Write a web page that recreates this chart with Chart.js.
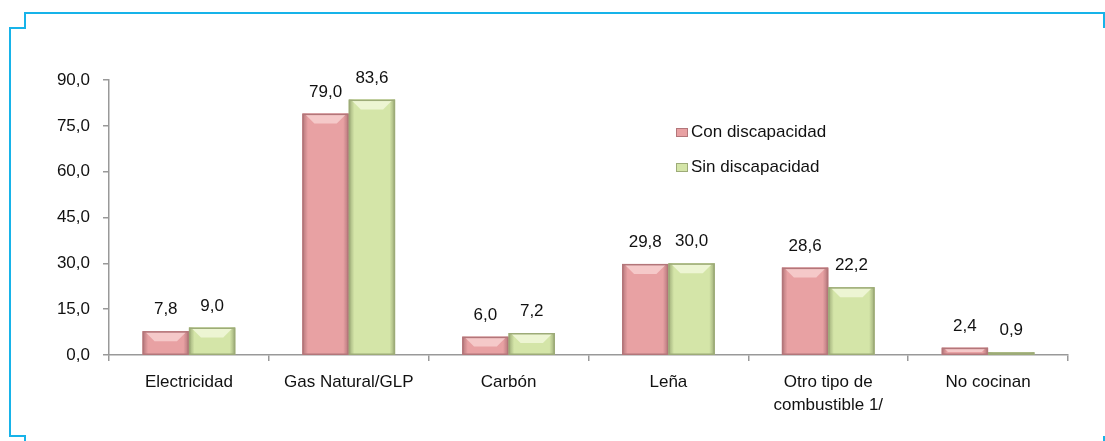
<!DOCTYPE html>
<html>
<head>
<meta charset="utf-8">
<script src="https://cdn.jsdelivr.net/npm/chart.js@4.4.1/dist/chart.umd.min.js"></script>
<style>
    html, body { margin: 0; padding: 0; background: #fff; }
</style>
</head>
<body>
<canvas id="fuelChart" width="1105" height="441"></canvas>
<script>
/****************************** Data ********************************/
const categories = ["Electricidad", "Gas Natural/GLP", "Carbón", "Leña", ["Otro tipo de", "combustible 1/"], "No cocinan"];
const seriesNames = ["Con discapacidad", "Sin discapacidad"];
const conDiscapacidad = [7.8, 79.0, 6.0, 29.8, 28.6, 2.4];
const sinDiscapacidad = [9.0, 83.6, 7.2, 30.0, 22.2, 0.9];
const yTicks = [0, 15, 30, 45, 60, 75, 90];

const FONT = "'Liberation Sans', Arial, sans-serif";
const FSIZE = 17;
const fmt = v => v.toFixed(1).replace(".", ",");

// shades for the bevelled bars: [dark edge, body, highlight]
const shades = [
    ["#b3767a", "#e8a1a3", "#f5c9c9"],
    ["#9dab78", "#d4e5a8", "#edf5d3"],
];

/****************************** Plugins ********************************/
const framePlugin = {
    id: "frame",
    beforeDraw(chart) {
        const c = chart.ctx;
        c.save();
        c.strokeStyle = "#17b3e9";
        c.lineWidth = 2;
        c.beginPath();
        c.moveTo(25, 441); c.lineTo(25, 436); c.lineTo(10, 436); c.lineTo(10, 28);
        c.lineTo(25, 28); c.lineTo(25, 13); c.lineTo(1104, 13); c.lineTo(1104, 28);
        c.moveTo(1104, 436); c.lineTo(1104, 441);
        c.stroke();
        c.restore();
    }
};

const bevelPlugin = {
    id: "bevel",
    afterDatasetsDraw(chart) {
        const c = chart.ctx;
        chart.data.datasets.forEach((ds, di) => {
            const [dark, body, light] = shades[di];
            chart.getDatasetMeta(di).data.forEach(el => {
                const x0 = el.x - el.width / 2, x1 = el.x + el.width / 2;
                const top = el.y, bot = el.base, h = bot - top;
                const g = c.createLinearGradient(x0, 0, x1, 0);
                g.addColorStop(0, dark);
                g.addColorStop(0.12, body);
                g.addColorStop(0.5, body);
                g.addColorStop(0.88, body);
                g.addColorStop(1, dark);
                c.save();
                c.fillStyle = g;
                c.fillRect(x0, top, el.width, h);
                // top highlight
                const bh = Math.min(9, h / 2);
                c.fillStyle = light;
                c.beginPath();
                c.moveTo(x0 + 3, top + 1);
                c.lineTo(x1 - 3, top + 1);
                c.lineTo(x1 - 3 - bh, top + 1 + bh);
                c.lineTo(x0 + 3 + bh, top + 1 + bh);
                c.closePath();
                c.fill();
                c.strokeStyle = dark;
                c.lineWidth = 1.5;
                c.strokeRect(x0 + 0.75, top + 0.75, el.width - 1.5, h - 0.75);
                c.restore();
            });
        });
    }
};

const valueLabels = {
    id: "valueLabels",
    afterDatasetsDraw(chart) {
        const c = chart.ctx;
        c.save();
        c.font = FSIZE + "px " + FONT;
        c.fillStyle = "#111";
        c.textAlign = "center";
        c.textBaseline = "alphabetic";
        chart.data.datasets.forEach((ds, di) => {
            chart.getDatasetMeta(di).data.forEach((el, i) => {
                c.fillText(fmt(ds.data[i]), el.x, el.y - 17);
            });
        });
        c.restore();
    }
};

const insideLegend = {
    id: "insideLegend",
    afterDraw(chart) {
        const c = chart.ctx;
        c.save();
        c.font = FSIZE + "px " + FONT;
        c.textBaseline = "middle";
        chart.data.datasets.forEach((ds, di) => {
            const y = 132 + di * 35;
            c.fillStyle = ds.backgroundColor;
            c.fillRect(676, y - 4, 12, 9);
            c.strokeStyle = shades[di][0];
            c.strokeRect(676.5, y - 3.5, 11, 8);
            c.fillStyle = "#111";
            c.fillText(ds.label, 691, y);
        });
        c.restore();
    }
};

/****************************** Chart ********************************/
new Chart("fuelChart", {
    type: "bar",
    data: {
        labels: categories,
        datasets: [
            { label: seriesNames[0], data: conDiscapacidad, backgroundColor: shades[0][1] },
            { label: seriesNames[1], data: sinDiscapacidad, backgroundColor: shades[1][1] },
        ]
    },
    options: {
        responsive: false,
        animation: false,
        devicePixelRatio: 1,
        layout: { padding: { top: 80, right: 37, left: 0, bottom: 0 } },
        datasets: { bar: { categoryPercentage: 0.58, barPercentage: 1.0 } },
        plugins: {
            legend: { display: false },
            tooltip: { enabled: false },
        },
        scales: {
            x: {
                grid: { drawOnChartArea: false, offset: true, tickLength: 6, color: "#999", lineWidth: 1.5 },
                border: { color: "#999", width: 1.5 },
                ticks: {
                    font: { family: FONT, size: FSIZE, lineHeight: 1.4 },
                    color: "#111", padding: 9, maxRotation: 0, autoSkip: false
                },
                afterFit: s => { s.height = 86; }
            },
            y: {
                min: yTicks[0],
                max: yTicks[yTicks.length - 1],
                afterBuildTicks: s => { s.ticks = yTicks.map(v => ({ value: v })); },
                grid: { drawOnChartArea: false, tickLength: 6, color: "#999", lineWidth: 1.5 },
                border: { color: "#999", width: 1.5 },
                ticks: {
                    font: { family: FONT, size: FSIZE },
                    color: "#111", padding: 13,
                    callback: v => fmt(v)
                },
                afterFit: s => { s.width = 109; }
            }
        }
    },
    plugins: [framePlugin, bevelPlugin, valueLabels, insideLegend]
});
</script>
</body>
</html>
